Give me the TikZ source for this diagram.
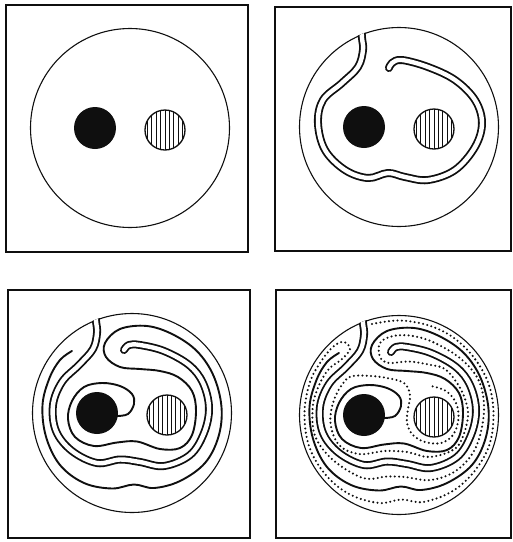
\documentclass[tikz,border=0pt]{standalone}
\usepackage{tikz}
\usetikzlibrary{calc}
\definecolor{inkblack}{RGB}{15,15,15}

\begin{document}
\begin{tikzpicture}[x=1pt, y=-1pt,
    frame/.style={line width=1.6pt, inkblack},
    vessel/.style={line width=1.1pt, inkblack},
    slit/.style={draw=inkblack, double=white, line width=1.8pt, double distance=4.4pt,
                 line cap=round, line join=round},
    streak/.style={line width=1.9pt, inkblack, line cap=round, line join=round},
    dotline/.style={line width=2.3pt, inkblack, line cap=round, dash pattern=on 0pt off 4.3pt}]
    \useasboundingbox (0,0) rectangle (513,542);

    % ── Frames and vessel walls ────────────────────────────────────────
    \foreach \cx/\cy/\xa/\ya/\xb/\yb in {130/128/6/5/248/252, 399/127/275/7/511/251,
                                        132/413/8/290/250/538, 399/415/276/290/511/538}{
      \draw[frame] (\xa,\ya) rectangle (\xb,\yb);
      \draw[vessel] (\cx,\cy) circle (99.5pt);
    }

    % ── Panel 2: first stretched streak ────────────────────────────────
    \begin{scope}[shift={(399,127)}]
      \clip (0,0) circle (100.2pt);
      \draw[slit] plot[smooth, tension=0.6] coordinates {
        (-38,-104) (-37,-89) (-36,-77) (-41,-60) (-57,-44) (-76,-27) (-81,-4)
        (-74,23) (-54,43) (-31,51) (-11,46) (6,50) (29,53) (56,43) (76,20)
        (83,-4) (76,-27) (56,-47) (29,-60) (3,-67) (-7,-64) (-10,-59)};
    \end{scope}

    % ── Panels 3 and 4: streak and line from the black rod ─────────────
    \foreach \cx/\cy in {132/413, 399/415}{
      \begin{scope}[shift={(\cx,\cy)}]
        \begin{scope}
          \clip (0,0) circle (100.2pt);
          \draw[slit] plot[smooth, tension=0.6] coordinates {
            (-37,-106) (-36,-92) (-35,-80) (-39,-64) (-53,-48) (-70,-31) (-79,-8)
            (-76,18) (-60,38) (-35,50) (-12,46.5) (8,49) (32,53) (58,42) (72,20)
            (77,-5) (71,-30) (57,-48) (32,-62) (8,-68) (-3,-68) (-8,-63)};
        \end{scope}
        \draw[streak] plot[smooth, tension=0.6] coordinates {
          (-15,3) (-4,1) (2,-9) (0,-19) (-12,-27) (-30,-30) (-48,-26) (-60,-12)
          (-64,6) (-57,24) (-38,33) (-15,29.5) (5,28.5) (28,36) (48,35) (60,22)
          (64,-2) (60,-22) (46,-36) (28,-42) (8,-44) (-12,-46) (-26,-56) (-27,-70)
          (-12,-84) (15,-87) (41,-78.5) (65,-61.8) (81.5,-37.3) (89.5,-6)
          (86.5,23.6) (73,50) (48,68) (22,75) (2,71.5) (-20,75.5) (-48,70) (-72,52)
          (-86,23.7) (-89.5,-8) (-82.5,-35) (-72,-53) (-60,-62)};
      \end{scope}
    }

    % ── Panel 4: dotted line between the turns ─────────────────────────
    \begin{scope}[shift={(399,415)}]
      \draw[dotline] plot[smooth, tension=0.6] coordinates {
        (-27,-91) (0,-94.5) (30,-89.5) (55,-77) (76,-56) (90,-30) (94.5,0)
        (90,31) (74,58) (52,77) (24,87) (2,84.5) (-20,88) (-50,79) (-74,59)
        (-90,31) (-94.5,-2) (-89,-33) (-77,-55) (-65,-69) (-55,-73) (-49,-66)
        (-57,-56) (-71,-45) (-82,-25) (-86.5,-4) (-83.5,22) (-66,45) (-36,63)
        (-12,61.5) (6,62) (32,65) (58,55) (77,32) (85,-4) (80,-34) (62,-56)
        (36,-72) (14,-79) (-6,-79) (-19,-72) (-19,-58) (-10,-52) (10,-53.5)
        (32,-50) (46,-46) (58,-32) (66,-16) (69,2) (62,26) (52,36) (30,42)
        (8,37) (-14,36) (-40,39) (-60,30) (-68.5,8) (-65,-15) (-55,-33)
        (-46,-39) (-28,-39) (-12,-37) (5,-32) (11,-20) (9,-6) (8,8) (14,20)
        (26,27) (42,28) (54,20) (59.5,4) (57,-12) (47,-24) (32,-29)};
    \end{scope}

    % ── Rods: black one and hatched one ────────────────────────────────
    \foreach \cx/\cy in {130/128, 399/127, 132/413, 399/415}{
      \begin{scope}[shift={(\cx,\cy)}]
        \fill[inkblack] (-35,0) circle (21pt);
        \fill[white] (35,2) circle (20pt);
        \begin{scope}
          \clip (35,2) circle (20pt);
          \foreach \i in {-4,...,4}
            \draw[line width=0.9pt, inkblack] ({35+\i*4.4},-20) -- ({35+\i*4.4},24);
        \end{scope}
        \draw[line width=1.3pt, inkblack] (35,2) circle (20pt);
      \end{scope}
    }
\end{tikzpicture}
\end{document}
